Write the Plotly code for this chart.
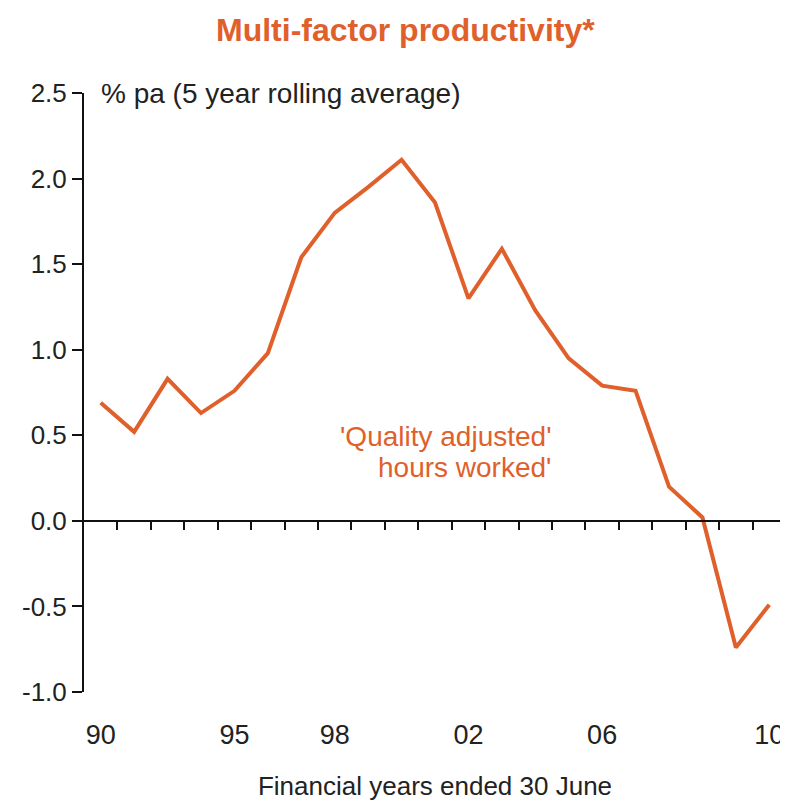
import plotly.graph_objects as go

years = list(range(1990, 2011))
mfp = [0.69, 0.52, 0.83, 0.63, 0.76, 0.98, 1.54, 1.80, 1.95, 2.11, 1.86,
       1.30, 1.59, 1.23, 0.95, 0.79, 0.76, 0.20, 0.02, -0.74, -0.49]

tick_years = [1990, 1994, 1997, 2001, 2005, 2010]
tick_labels = ["90", "95", "98", "02", "06", "10"]

y_ticks = [-1.0, -0.5, 0.0, 0.5, 1.0, 1.5, 2.0, 2.5]
y_tick_labels = [f"{v:.1f}" for v in y_ticks]

orange = "#E0602C"
font = "Liberation Sans, Arial, sans-serif"

fig = go.Figure()

fig.add_trace(go.Scatter(
    x=years,
    y=mfp,
    mode="lines",
    line=dict(color=orange, width=4),
    showlegend=False,
    hovertemplate="%{x}: %{y:.2f}<extra></extra>",
))
# copy on the zero-line axis so that axis gets drawn
fig.add_trace(go.Scatter(
    x=years, y=mfp, mode="lines", xaxis="x2",
    line=dict(color="rgba(0,0,0,0)", width=0),
    showlegend=False, hoverinfo="skip",
))

# title as an annotation, kept inside the page
fig.add_annotation(
    text="<b>Multi-factor productivity*</b>",
    xref="paper", yref="paper", x=0.458, y=1.138,
    xanchor="center", yanchor="top", showarrow=False,
    font=dict(family=font, size=32, color=orange),
)
fig.add_annotation(
    text="'Quality adjusted'",
    xref="paper", yref="paper", x=0.668, y=0.426,
    xanchor="right", yanchor="middle", showarrow=False,
    font=dict(family=font, size=28, color=orange),
)
fig.add_annotation(
    text="hours worked'",
    xref="paper", yref="paper", x=0.668, y=0.374,
    xanchor="right", yanchor="middle", showarrow=False,
    font=dict(family=font, size=28, color=orange),
)
fig.add_annotation(
    text="% pa (5 year rolling average)",
    xref="paper", yref="paper", x=0.022, y=1.0,
    xanchor="left", yanchor="middle", showarrow=False,
    font=dict(family=font, size=28, color="#222"),
)

# the page body adds an 8px offset, so the figure is 8px smaller than the window
fig.update_layout(
    width=780, height=793, autosize=False,
    margin=dict(l=76, r=2, t=85, b=109),
    plot_bgcolor="white", paper_bgcolor="white",
    xaxis=dict(
        range=[1989.5, 2010.5], tickvals=tick_years, ticktext=tick_labels,
        showline=False, showgrid=False, zeroline=False, ticks="",
        ticklabelstandoff=24, automargin=False,
        tickfont=dict(family=font, size=27, color="#222"),
        title=dict(text="Financial years ended 30 June", standoff=28,
                   font=dict(family=font, size=26, color="#222")),
    ),
    xaxis2=dict(
        range=[1989.5, 2010.5], overlaying="x", anchor="free", position=1 / 3.5,
        tickvals=[y + 0.5 for y in years], showticklabels=False,
        showline=True, linecolor="#111", linewidth=2,
        ticks="outside", ticklen=8, tickwidth=2, tickcolor="#111",
        showgrid=False, zeroline=False, automargin=False,
    ),
    yaxis=dict(
        range=[-1, 2.5], tickvals=y_ticks, ticktext=y_tick_labels,
        showline=True, linecolor="#111", linewidth=2,
        ticks="outside", ticklen=10, tickwidth=2, tickcolor="#111",
        showgrid=False, zeroline=False, automargin=False,
        tickfont=dict(family=font, size=26, color="#222"),
    ),
)

fig.write_html("out.html")
